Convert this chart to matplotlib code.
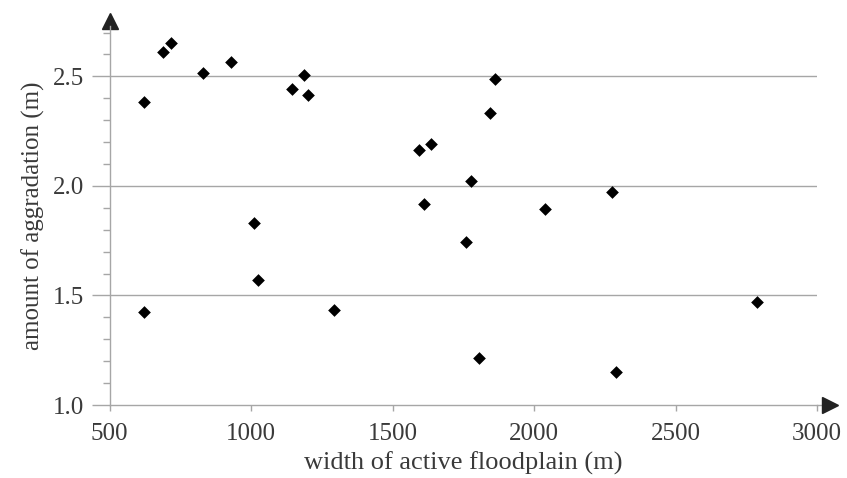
import matplotlib
matplotlib.use("Agg")
import matplotlib.pyplot as plt
from matplotlib.ticker import MultipleLocator

# values
width_m = [621, 688, 717, 829, 929, 1146, 1187, 1202, 1012, 1024, 622, 1292,
           1594, 1637, 1777, 1845, 1862, 1610, 1761, 1805, 2040, 2275, 2291, 2789]
aggradation_m = [2.385, 2.61, 2.653, 2.516, 2.566, 2.444, 2.508, 2.414, 1.830, 1.569,
                 1.425, 1.432, 2.163, 2.192, 2.024, 2.335, 2.487, 1.916, 1.743, 1.216,
                 1.895, 1.974, 1.151, 1.469]

x_ticks = [500, 1000, 1500, 2000, 2500, 3000]
y_ticks = [1.0, 1.5, 2.0, 2.5]
y_tick_labels = ["1.0", "1.5", "2.0", "2.5"]

plt.rcParams['font.family'] = ['Liberation Serif', 'DejaVu Serif']

grey = '#a6a6a6'
text_col = '#3a3a3a'

fig = plt.figure(figsize=(8.47, 4.78), dpi=100)
ax = fig.add_axes([109.5 / 847, 1 - 405 / 478, (817 - 109.5) / 847, (405 - 26) / 478])

ax.scatter(width_m, aggradation_m, marker='D', s=42, color='black', zorder=3,
           linewidths=0)

ax.set_xlim(500, 3000)
ax.set_ylim(1.0, 2.73)

ax.set_xticks(x_ticks)
ax.set_yticks(y_ticks)
ax.set_yticklabels(y_tick_labels)
ax.yaxis.set_minor_locator(MultipleLocator(0.1))

for yv in y_ticks[1:]:
    ax.axhline(yv, color=grey, linewidth=1.0, zorder=1)

for side in ['top', 'right']:
    ax.spines[side].set_visible(False)
for side in ['left', 'bottom']:
    ax.spines[side].set_color(grey)
    ax.spines[side].set_linewidth(1.0)

ax.tick_params(axis='x', which='major', direction='out', length=4, width=1.0,
               color=grey, labelsize=18, labelcolor=text_col, pad=9)
ax.tick_params(axis='y', which='major', direction='out', length=13, width=1.0,
               color=grey, labelsize=18, labelcolor=text_col, pad=5)
ax.tick_params(axis='y', which='minor', direction='out', length=5, width=1.0,
               color=grey)

# arrow heads at the ends of the axes
ax.plot([3000, 3028], [1.0, 1.0], color=grey, linewidth=1.0, clip_on=False)
ax.plot([3046], [1.0], marker='>', markersize=11, color='#222222', clip_on=False)
ax.plot([500], [2.755], marker='^', markersize=11, color='#222222', clip_on=False)

ax.set_xlabel('width of active floodplain (m)', fontsize=19, color=text_col, labelpad=5)
ax.set_ylabel('amount of aggradation (m)', fontsize=18, color=text_col, labelpad=6)

fig.savefig('out.png', dpi=100)
